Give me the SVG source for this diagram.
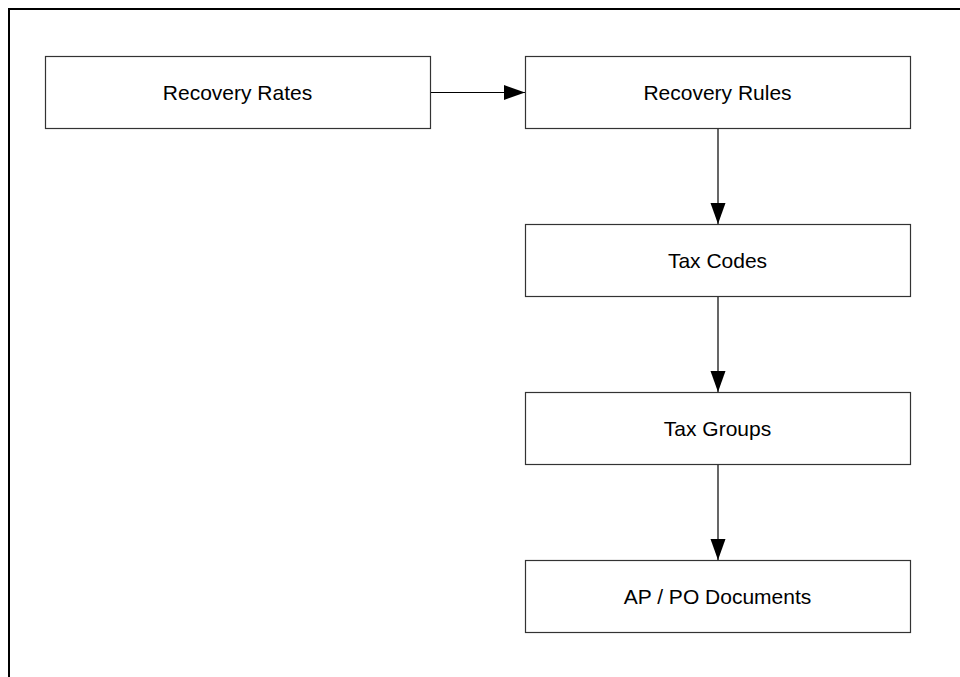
<svg xmlns="http://www.w3.org/2000/svg" width="960" height="677" viewBox="0 0 960 677">
<defs>
<style>
.box{fill:#fff;stroke:#333;stroke-width:1.2}
.lbl{font-family:"Liberation Sans",Arial,sans-serif;font-size:21px;fill:#000;text-anchor:middle}
.conn{stroke:#000;stroke-width:1.2;fill:none}
</style>
<marker id="ah" markerUnits="userSpaceOnUse" markerWidth="22" markerHeight="16" refX="21" refY="7.5" orient="auto">
<path d="M0,0 L21,7.5 L0,15 Z" fill="#000"/>
</marker>
</defs>
<rect width="960" height="677" fill="#fff"/>
<path d="M9,677 L9,9 L960,9" fill="none" stroke="#000" stroke-width="2"/>
<g id="n1"><rect class="box" x="45.5" y="56.5" width="385" height="72"/><text class="lbl" x="237.5" y="99.5">Recovery Rates</text></g>
<g id="n2"><rect class="box" x="525.5" y="56.5" width="385" height="72"/><text class="lbl" x="717.5" y="99.5">Recovery Rules</text></g>
<g id="n3"><rect class="box" x="525.5" y="224.5" width="385" height="72"/><text class="lbl" x="717.5" y="267.5">Tax Codes</text></g>
<g id="n4"><rect class="box" x="525.5" y="392.5" width="385" height="72"/><text class="lbl" x="717.5" y="435.5">Tax Groups</text></g>
<g id="n5"><rect class="box" x="525.5" y="560.5" width="385" height="72"/><text class="lbl" x="717.5" y="603.5">AP / PO Documents</text></g>
<g id="connectors">
<line class="conn" x1="431" y1="92.5" x2="525" y2="92.5" marker-end="url(#ah)"/>
<line class="conn" x1="718" y1="129" x2="718" y2="224" marker-end="url(#ah)"/>
<line class="conn" x1="718" y1="297" x2="718" y2="392" marker-end="url(#ah)"/>
<line class="conn" x1="718" y1="465" x2="718" y2="560" marker-end="url(#ah)"/>
</g>
</svg>
